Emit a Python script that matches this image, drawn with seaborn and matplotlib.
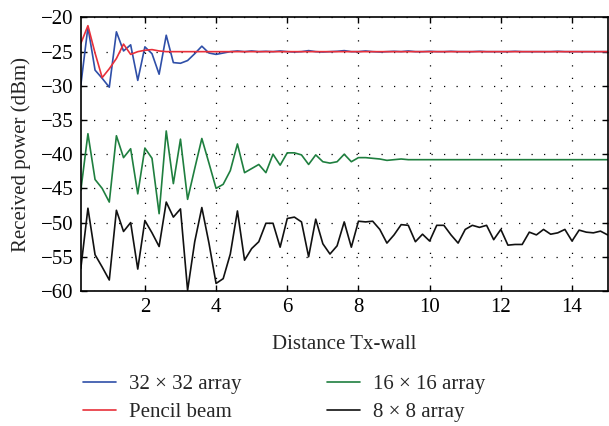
import numpy as np
import pandas as pd
import matplotlib
matplotlib.use("Agg")
import matplotlib.pyplot as plt
import seaborn as sns

distance = np.round(np.arange(1, 76) * 0.2, 1)

arr32 = [-29.9, -21.4, -27.7, -28.9, -30.2, -22.1, -24.9, -24.0, -29.2, -24.3,
         -25.3, -28.3, -22.6, -26.6, -26.7, -26.3, -25.3, -24.2, -25.2, -25.4,
         -25.2, -25.0, -24.9, -25.0, -24.9, -25.0, -24.95, -25.0, -24.9, -25.0,
         -25.05, -25.0, -24.85, -25.0, -25.05, -25.0, -24.95, -24.85, -25.0, -25.0,
         -24.9, -25.0, -25.05, -25.0, -24.95, -25.0, -24.9, -25.0, -25.0, -24.95,
         -25.0, -25.0, -24.95, -25.0, -25.0, -25.0, -24.95, -25.0, -25.0, -25.0,
         -25.0, -24.95, -25.0, -25.0, -25.0, -25.0, -25.0, -24.95, -25.0, -25.0,
         -25.0, -25.0, -25.0, -25.0, -25.0]
pencil = [-23.8, -21.2, -25.2, -28.8, -27.5, -26.0, -23.9, -25.4, -25.0, -24.8,
          -24.7, -24.9] + [-25.0] * 63
arr16 = [-45.3, -37.0, -43.7, -45.0, -47.0, -37.3, -40.5, -39.2, -45.8, -39.1,
         -40.6, -48.7, -36.6, -44.3, -37.8, -46.6, -42.1, -37.7, -41.3, -45.0,
         -44.4, -42.4, -38.5, -42.7, -42.1, -41.5, -42.7, -40.0, -41.6, -39.8,
         -39.8, -40.1, -41.5, -40.1, -41.1, -41.3, -41.1, -40.0, -41.1, -40.5,
         -40.5, -40.6, -40.7, -40.9, -40.8, -40.7] + [-40.8] * 29
arr8 = [-56.7, -47.9, -54.7, -56.5, -58.4, -48.2, -51.3, -50.0, -56.8, -49.7,
        -51.5, -53.5, -47.0, -49.2, -48.0, -59.9, -52.8, -47.8, -53.0, -58.9,
        -58.2, -54.6, -48.3, -55.5, -53.8, -52.8, -50.1, -50.1, -53.6, -49.4,
        -49.2, -49.9, -55.0, -49.5, -53.1, -54.6, -53.4, -49.9, -53.6, -49.8,
        -49.9, -49.8, -51.0, -53.0, -51.8, -50.3, -50.4, -52.8, -51.7, -52.7,
        -50.4, -50.4, -51.8, -53.0, -51.0, -50.4, -50.7, -50.4, -52.5, -51.0,
        -53.3, -53.2, -53.2, -51.4, -51.8, -51.0, -51.7, -51.5, -51.0, -52.7,
        -51.1, -51.4, -51.5, -51.25, -51.8]

labels = ["32 × 32 array", "Pencil beam", "16 × 16 array", "8 × 8 array"]
colors = ["#2f4fa8", "#e8303a", "#1f7f3f", "#111111"]
xticks = [2, 4, 6, 8, 10, 12, 14]
yticks = [-20, -25, -30, -35, -40, -45, -50, -55, -60]

df = pd.concat([
    pd.DataFrame({"Distance": distance, "Power": vals, "Series": lab})
    for vals, lab in zip([arr32, pencil, arr16, arr8], labels)
], ignore_index=True)

sns.set_style("ticks")
plt.rcParams["font.family"] = ["Liberation Serif", "DejaVu Serif"]

FS = 15

fig = plt.figure(figsize=(6.09, 4.26), dpi=100)
ax = fig.add_axes([0.1327, 0.317, 0.865, 0.642])

sns.lineplot(data=df, x="Distance", y="Power", hue="Series", hue_order=labels,
             palette=colors, linewidth=1.2, ax=ax, legend=True, sort=False)

ax.set_xlim(0.2, 15)
ax.set_ylim(-60, -20)
ax.set_xticks(xticks)
ax.set_yticks(yticks)
ax.grid(True, color="black", linestyle=(0, (1, 9)), linewidth=0.9)
ax.tick_params(direction="in", top=True, right=True, labelsize=FS,
               length=4, width=1.0, colors="black", pad=5)
for s in ax.spines.values():
    s.set_linewidth(1.2)
    s.set_color("black")
ax.set_xlabel("Distance Tx-wall", fontsize=FS, labelpad=13)
ax.set_ylabel("Received power (dBm)", fontsize=FS, labelpad=7)

handles, labs = ax.get_legend_handles_labels()
ax.get_legend().remove()
fig.legend(handles, labs, loc="lower left", bbox_to_anchor=(0.105, -0.035), ncol=2,
           frameon=False, fontsize=FS, handlelength=1.6, handletextpad=0.62,
           columnspacing=4.1, labelspacing=0.4)

fig.savefig("out.png", dpi=100)
